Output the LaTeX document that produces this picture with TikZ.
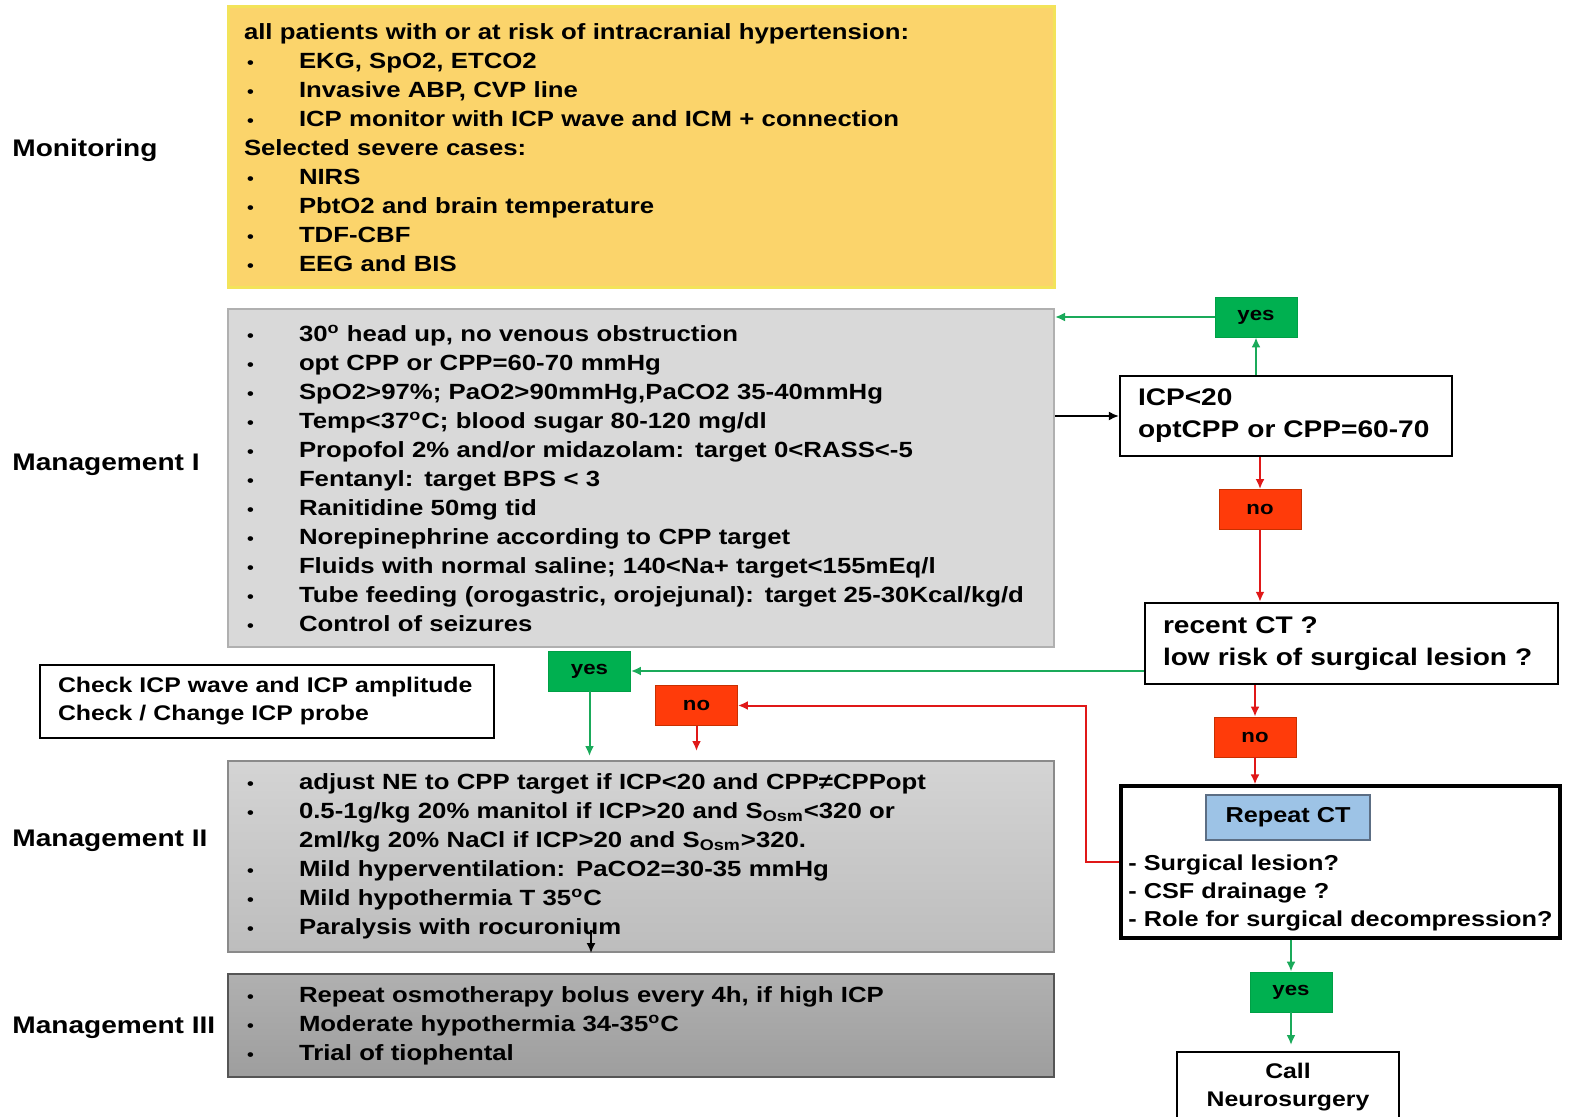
\documentclass[tikz,border=0pt]{standalone}
\usepackage{fontspec}
\setmainfont{Liberation Sans}[FakeStretch=1.17]
\usetikzlibrary{arrows.meta,calc}
\definecolor{ybox}{HTML}{FBD46B}
\definecolor{yborder}{HTML}{F3E35A}
\definecolor{gone}{HTML}{D9D9D9}
\definecolor{goneb}{HTML}{B0B0B0}
\definecolor{gtwot}{HTML}{D4D4D4}
\definecolor{gtwob}{HTML}{BDBDBD}
\definecolor{gtwod}{HTML}{8A8A8A}
\definecolor{gthreet}{HTML}{B0B0B0}
\definecolor{gthreeb}{HTML}{9E9E9E}
\definecolor{gthreed}{HTML}{555555}
\definecolor{yesg}{HTML}{00B050}
\definecolor{yesgd}{HTML}{00A046}
\definecolor{nor}{HTML}{FF3B0A}
\definecolor{nord}{HTML}{C83000}
\definecolor{arrg}{HTML}{1AAA5A}
\definecolor{arrr}{HTML}{E01818}
\definecolor{ctblue}{HTML}{9DC3E6}
\definecolor{ctblued}{HTML}{5C6E84}
\newcommand{\bl}{\makebox[27.5pt][l]{\hspace{1.5pt}\scalebox{0.75}{\textbullet}}}
\newcommand{\dg}{\textsuperscript{o}}
\begin{document}
\begin{tikzpicture}[x=0.5pt,y=-0.5pt,
  lefttitle/.style={anchor=west,inner sep=0pt,font=\fontsize{12}{14}\selectfont\bfseries},
  bigbox/.style={minimum width=413pt,text width=397pt,inner xsep=8pt,align=left,font=\fontsize{11}{14.5}\selectfont\bfseries},
  decbox/.style={draw=black,line width=1.2pt,fill=white,align=left,inner xsep=9pt,font=\fontsize{12}{16}\selectfont\bfseries},
  yesbox/.style={fill=yesg,draw=yesgd,minimum width=41pt,minimum height=20pt,inner sep=0pt,font=\fontsize{9.5}{11}\selectfont\bfseries},
  nobox/.style={fill=nor,draw=nord,minimum width=41pt,minimum height=20pt,inner sep=0pt,font=\fontsize{9.5}{11}\selectfont\bfseries},
  tip/.style={-{Latex[length=5pt,width=4.5pt]}},
  garrow/.style={tip,draw=arrg,line width=1pt},
  rarrow/.style={tip,draw=arrr,line width=1pt},
  karrow/.style={tip,draw=black,line width=0.8pt}
]
\useasboundingbox (0,0) rectangle (1570,1117);
\fill[white] (0,0) rectangle (1570,1117);

% left titles
\node[lefttitle] (tmon) at (12,150) {Monitoring};
\node[lefttitle] (tm1) at (12,465) {Management I};
\node[lefttitle] (tm2) at (12,841) {Management II};
\node[lefttitle] (tm3) at (12,1028) {Management III};

% main boxes
\node[bigbox,fill=ybox,draw=yborder,line width=1.5pt,minimum height=140.5pt] (mon) at (641,147.5) {%
all patients with or at risk of intracranial hypertension:\\
\bl EKG, SpO2, ETCO2\\
\bl Invasive ABP, CVP line\\
\bl ICP monitor with ICP wave and ICM + connection\\
Selected severe cases:\\
\bl NIRS\\
\bl PbtO2 and brain temperature\\
\bl TDF-CBF\\
\bl EEG and BIS};

\node[bigbox,fill=gone,draw=goneb,line width=1pt,minimum height=169pt] (m1) at (641,478) {%
\bl 30\dg{} head up, no venous obstruction\\
\bl opt CPP or CPP=60-70 mmHg\\
\bl SpO2>97\%; PaO2>90mmHg,PaCO2 35-40mmHg\\
\bl Temp<37\dg C; blood sugar 80-120 mg/dl\\
\bl Propofol 2\% and/or midazolam: target 0<RASS<-5\\
\bl Fentanyl: target BPS < 3\\
\bl Ranitidine 50mg tid\\
\bl Norepinephrine according to CPP target\\
\bl Fluids with normal saline; 140<Na+ target<155mEq/l\\
\bl \mbox{Tube feeding (orogastric, orojejunal): target 25-30Kcal/kg/d}\\
\bl Control of seizures};

\node[bigbox,top color=gtwot,bottom color=gtwob,draw=gtwod,line width=1pt,minimum height=95.5pt] (m2) at (641,856.5) {%
\bl adjust NE to CPP target if ICP<20 and CPP≠CPPopt\\
\bl 0.5-1g/kg 20\% manitol if ICP>20 and S\textsubscript{Osm}<320 or\\
\hspace*{27.5pt}2ml/kg 20\% NaCl if ICP>20 and S\textsubscript{Osm}>320.\\
\bl Mild hyperventilation: PaCO2=30-35 mmHg\\
\bl Mild hypothermia T 35\dg C\\
\bl Paralysis with rocuronium};

\node[bigbox,top color=gthreet,bottom color=gthreeb,draw=gthreed,line width=1pt,minimum height=51.5pt] (m3) at (641,1025.5) {%
\bl Repeat osmotherapy bolus every 4h, if high ICP\\
\bl Moderate hypothermia 34-35\dg C\\
\bl Trial of tiophental};

% decision boxes
\node[decbox,minimum width=166pt,minimum height=40pt,text width=148pt] (icp) at (1286,416) {ICP<20\\\mbox{optCPP or CPP=60-70}};
\node[decbox,minimum width=206.5pt,minimum height=40.5pt,text width=188.5pt] (recent) at (1351.5,643.5) {recent CT ?\\\mbox{low risk of surgical lesion ?}};
\node[decbox,line width=1pt,minimum width=227pt,minimum height=36.5pt,text width=209pt,font=\fontsize{10.6}{14}\selectfont\bfseries] (check) at (267,701.5) {\mbox{Check ICP wave and ICP amplitude}\\Check / Change ICP probe};

\node[draw=black,line width=1.6pt,fill=white,minimum width=219.5pt,minimum height=76pt] (rep) at (1340.5,862) {};
\node[fill=ctblue,draw=ctblued,line width=0.8pt,minimum width=82pt,minimum height=22.5pt,inner sep=0pt,font=\fontsize{10.8}{13}\selectfont\bfseries] (repblue) at (1288,817.5) {Repeat CT};
\node[anchor=west,align=left,inner sep=0pt,font=\fontsize{10.8}{14}\selectfont\bfseries] (reptext) at (1128,893) {- Surgical lesion?\\- CSF drainage ?\\- Role for surgical decompression?};

\node[draw=black,line width=0.8pt,fill=white,anchor=north,minimum width=111pt,minimum height=35pt,align=center,inner sep=0pt,font=\fontsize{10.6}{14}\selectfont\bfseries] (call) at (1288,1051) {Call\\Neurosurgery};

% yes / no
\node[yesbox] (yesT) at (1256,317) {yes};
\node[nobox] (noA) at (1260,509.5) {no};
\node[nobox] (noB) at (1255,737) {no};
\node[yesbox] (yesR) at (1291,992) {yes};
\node[yesbox] (yesL) at (589.5,671) {yes};
\node[nobox] (noL) at (696.5,705.5) {no};

% connectors
\draw[karrow] (m1.east |- icp.west) -- (icp.west);
\draw[garrow] (yesT.south |- icp.north) -- (yesT.south);
\draw[garrow] (yesT.west) -- (m1.east |- yesT.west);
\draw[rarrow] (noA.north |- icp.south) -- (noA.north);
\draw[rarrow] (noA.south) -- (noA.south |- recent.north);
\draw[garrow] (recent.west |- yesL.east) -- (yesL.east);
\draw[garrow,shorten >=2pt] (yesL.south) -- (yesL.south |- m2.north);
\draw[rarrow] (noB.north |- recent.south) -- (noB.north);
\draw[rarrow] (noB.south) -- (noB.south |- rep.north);
\coordinate (redturn) at (1086,862);
\draw[rarrow] (rep.west) -- (redturn) |- (noL.east);
\draw[rarrow,shorten >=4.5pt] (noL.south) -- (noL.south |- m2.north);
\draw[garrow] (yesR.north |- rep.south) -- (yesR.north);
\draw[garrow,shorten >=3pt] (yesR.south) -- (yesR.south |- call.north);
\coordinate (smallarr) at (591,930);
\draw[karrow] (smallarr) -- (smallarr |- m2.south);
\end{tikzpicture}
\end{document}
